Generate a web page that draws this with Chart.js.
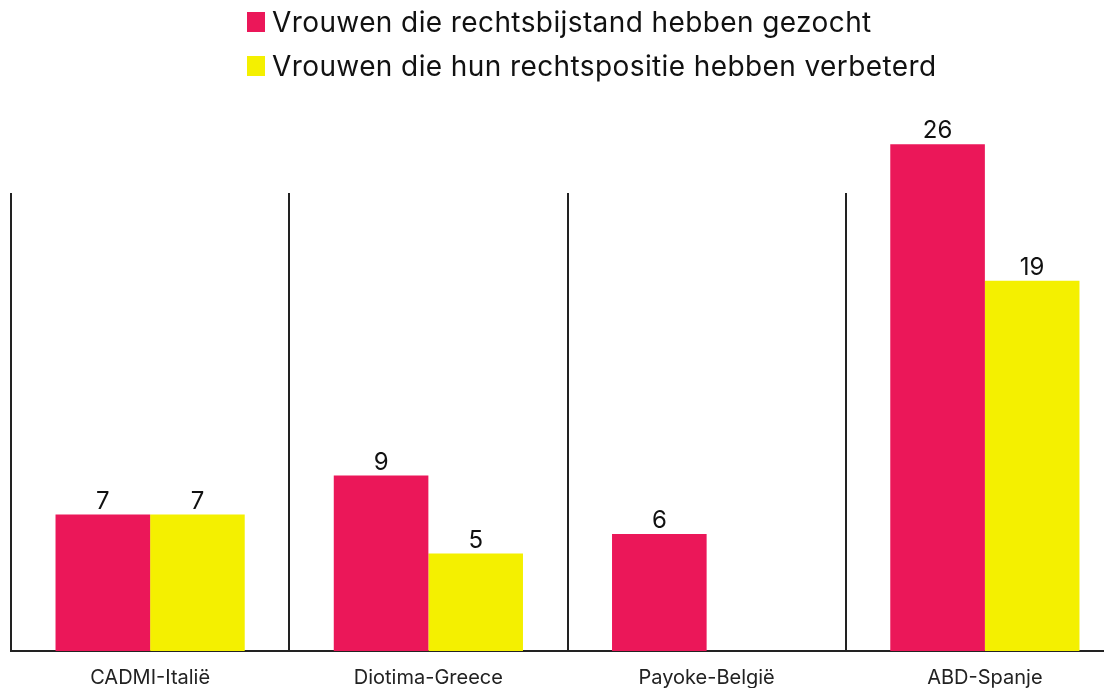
<!DOCTYPE html>
<html>
<head>
<meta charset="utf-8">
<script src="https://cdn.jsdelivr.net/npm/chart.js@4/dist/chart.umd.min.js"></script>
<style>
  html,body{margin:0;padding:0;background:#fff;overflow:hidden;width:1104px;height:688px;}
  #wrap{position:relative;width:1104px;height:688px;overflow:hidden;}
  canvas{position:absolute;left:0;top:0;}
  #legend{position:absolute;left:247px;top:0px;font-family:Inter,"Open Sans",sans-serif;font-size:28px;letter-spacing:0.4px;color:#111;}
  .item{display:flex;align-items:center;height:44px;}
  .box{width:18px;height:20px;margin-right:7px;}
</style>
</head>
<body>
<div id="wrap">
  <canvas id="c" width="1130" height="705"></canvas>
  <div id="legend"></div>
</div>
<script>
const categories = ["CADMI-Italië", "Diotima-Greece", "Payoke-België", "ABD-Spanje"];
const seriesNames = ["Vrouwen die rechtsbijstand hebben gezocht", "Vrouwen die hun rechtspositie hebben verbeterd"];
const soughtHelp = [7, 9, 6, 26];
const improved = [7, 5, null, 19];
const colors = ["#EB1759", "#F4F000"];

const labelPlugin = {
  id: 'valueLabels',
  afterDatasetsDraw(chart) {
    const ctx = chart.ctx;
    ctx.save();
    ctx.font = '24px Inter, "Open Sans", sans-serif';
    ctx.fillStyle = '#111';
    ctx.textAlign = 'center';
    ctx.textBaseline = 'alphabetic';
    chart.data.datasets.forEach((ds, di) => {
      const meta = chart.getDatasetMeta(di);
      meta.data.forEach((bar, i) => {
        const v = ds.data[i];
        if (v === null || v === undefined) return;
        ctx.fillText(String(v), bar.x, bar.y - 6);
      });
    });
    ctx.restore();
  }
};

const chart = new Chart(document.getElementById('c'), {
  type: 'bar',
  data: {
    labels: categories,
    datasets: [
      { label: seriesNames[0], data: soughtHelp, backgroundColor: colors[0], clip: false },
      { label: seriesNames[1], data: improved, backgroundColor: colors[1], clip: false }
    ]
  },
  options: {
    responsive: false,
    devicePixelRatio: 1,
    animation: false,
    layout: { padding: { left: 11, right: 6, top: 193, bottom: 0 } },
    plugins: { legend: { display: false }, tooltip: { enabled: false } },
    datasets: { bar: { categoryPercentage: 0.68, barPercentage: 1.0 } },
    scales: {
      x: {
        offset: true,
        grid: { display: true, offset: true, color: '#222', lineWidth: 2, drawTicks: false },
        border: { display: true, color: '#222', width: 2 },
        ticks: { color: '#222', font: { family: 'Inter, "Open Sans", sans-serif', size: 20 }, padding: 15 }
      },
      y: {
        display: false,
        min: 0,
        max: 23.5
      }
    }
  },
  plugins: [labelPlugin]
});

const legend = document.getElementById('legend');
seriesNames.forEach((name, i) => {
  const row = document.createElement('div');
  row.className = 'item';
  const box = document.createElement('span');
  box.className = 'box';
  box.style.background = colors[i];
  const txt = document.createElement('span');
  txt.textContent = name;
  row.appendChild(box);
  row.appendChild(txt);
  legend.appendChild(row);
});
</script>
</body>
</html>
